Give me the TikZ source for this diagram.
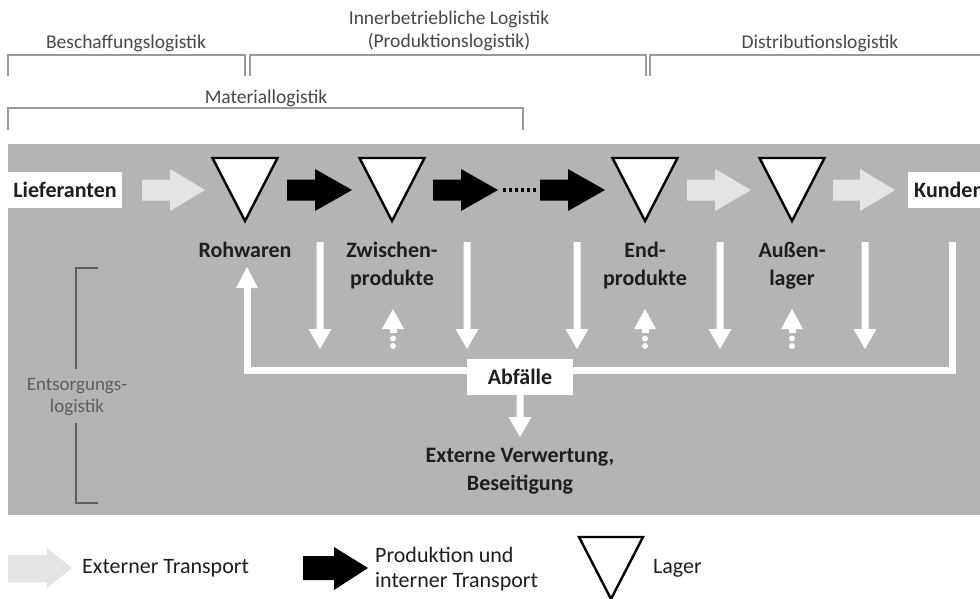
\documentclass[tikz,border=0pt]{standalone}
\usepackage{fontspec}
\setmainfont{Carlito}
\definecolor{bggray}{HTML}{B4B4B4}
\definecolor{lightarr}{HTML}{E4E4E4}
\definecolor{toptext}{HTML}{484848}
\definecolor{brkgray}{HTML}{9A9A9A}
\definecolor{entgray}{HTML}{5E5E5E}
\definecolor{labeltext}{HTML}{1E1E1E}
% fat horizontal arrow: style, x start, x tip, y, head length
\newcommand\fatarr[5]{%
  \fill[#1] (#2,#4-10.5) -- (#3-#5,#4-10.5) -- (#3-#5,#4-21) -- (#3,#4)
    -- (#3-#5,#4+21) -- (#3-#5,#4+10.5) -- (#2,#4+10.5) -- cycle;}
% white down arrow: x, y top, y tip
\newcommand\wdown[3]{%
  \fill[white] (#1-3.5,#2) -- (#1+3.5,#2) -- (#1+3.5,#3-20) -- (#1+11.5,#3-20)
    -- (#1,#3) -- (#1-11.5,#3-20) -- (#1-3.5,#3-20) -- cycle;}
% white dotted up arrow: x
\newcommand\wupdot[1]{%
  \fill[white] (#1,309) -- (#1+11,329) -- (#1-11,329) -- cycle;
  \fill[white] (#1-3.5,328) rectangle (#1+3.5,333);
  \fill[white] (#1,338.5) circle (3);
  \fill[white] (#1,346) circle (3);}
% storage triangle: name, center x, top y, bottom y
\newcommand\lagertri[4]{%
  \coordinate (#1) at (#2,#3);
  \draw[black, line width=2.4, line join=miter, fill=white]
    (#2-32.5,#3) -- (#2+32.5,#3) -- (#2,#4) -- cycle;}
\begin{document}
\begin{tikzpicture}[x=1pt,y=-1pt,
  lbl/.style={font=\fontsize{22}{28}\selectfont\bfseries, text=labeltext, align=center, inner sep=0},
  toplbl/.style={font=\fontsize{19.5}{23}\selectfont, text=toptext, align=center, inner sep=0},
  leglbl/.style={font=\fontsize{22}{25}\selectfont, text=labeltext, align=left, inner sep=0, anchor=west},
  brk/.style={draw=brkgray, line width=1.4},
  whitebox/.style={fill=white, inner sep=0, font=\fontsize{22}{28}\selectfont\bfseries, text=labeltext},
  wline/.style={draw=white, line width=7, line join=miter}]
\useasboundingbox (0,0) rectangle (980,598);
\fill[white] (0,0) rectangle (980,598);

% ---- top brackets
\draw[brk] (8,76) -- (8,55) -- (245,55) -- (245,76);
\draw[brk] (250,76) -- (250,55) -- (646,55) -- (646,76);
\draw[brk] (650,76) -- (650,55) -- (990,55);
\draw[brk] (8,130) -- (8,108) -- (523,108) -- (523,130);
\node[toplbl] (besch) at (126,43) {Beschaffungslogistik};
\node[toplbl] (inner) at (449,31) {Innerbetriebliche Logistik\\(Produktionslogistik)};
\node[toplbl] (distr) at (820,43) {Distributionslogistik};
\node[toplbl] (mat) at (266,98) {Materiallogistik};

% ---- gray background
\fill[bggray] (8,144) rectangle (985,515);

% ---- Entsorgungslogistik bracket
\draw[entgray, line width=1.4] (98,268) -- (76,268) -- (76,369);
\draw[entgray, line width=1.4] (76,423) -- (76,503) -- (98,503);
\node[font=\fontsize{19}{22}\selectfont, text=entgray, align=center, inner sep=0] (ents) at (77,397) {Entsorgungs-\\logistik};

% ---- end boxes
\node[whitebox, minimum width=114, minimum height=36] (lief) at (65,190) {Lieferanten};
\node[whitebox, anchor=west, minimum height=36, minimum width=100, inner xsep=6, text width=88, align=left] (kund) at (908,190) {Kunden};

% ---- storage triangles
\lagertri{t1}{245}{158}{221}
\lagertri{t2}{392}{158}{221}
\lagertri{t3}{645}{158}{221}
\lagertri{t4}{792}{158}{221}

% ---- flow arrows
\fatarr{lightarr}{142}{205}{190}{35}
\fatarr{black}{287}{352}{190}{37}
\fatarr{black}{433}{498}{190}{37}
\draw[black, line width=3.5, dash pattern=on 3 off 3] (503,190) -- (537,190);
\fatarr{black}{540}{605}{190}{37}
\fatarr{lightarr}{687}{751}{190}{36}
\fatarr{lightarr}{833}{895}{190}{35}

% ---- stage labels
\node[lbl] (l1) at (245,250) {Rohwaren};
\node[lbl] (l2) at (392,266) {Zwischen-\\produkte};
\node[lbl] (l3) at (645,266) {End-\\produkte};
\node[lbl] (l4) at (792,266) {Außen-\\lager};

% ---- waste return line
\draw[wline] (247,286) -- (247,370) -- (952,370) -- (952,242);
\fill[white] (247,267) -- (258,288) -- (236,288) -- cycle;
\wdown{320}{242}{349}
\wdown{467}{242}{349}
\wdown{577}{242}{349}
\wdown{720}{242}{349}
\wdown{865}{242}{349}
\wupdot{393}
\wupdot{645}
\wupdot{792}

% ---- Abfaelle
\node[whitebox, minimum width=106, minimum height=36] (abf) at (520,377) {Abfälle};
\wdown{520}{395}{437}
\node[lbl] (ext) at (520,471) {Externe Verwertung,\\Beseitigung};

% ---- legend
\fill[lightarr] (8,555) -- (47,555) -- (47,548) -- (72,568) -- (47,588) -- (47,582) -- (8,582) -- cycle;
\node[leglbl] (lg1) at (82,568) {Externer Transport};
\fill[black] (303,556) -- (334,556) -- (334,547) -- (368,568) -- (334,590) -- (334,580) -- (303,580) -- cycle;
\node[leglbl] (lg2) at (375,569) {Produktion und\\interner Transport};
\draw[black, line width=2.4, line join=miter] (579,537) -- (643,537) -- (611,599) -- cycle;
\node[leglbl] (lg3) at (653,568) {Lager};
\end{tikzpicture}
\end{document}
